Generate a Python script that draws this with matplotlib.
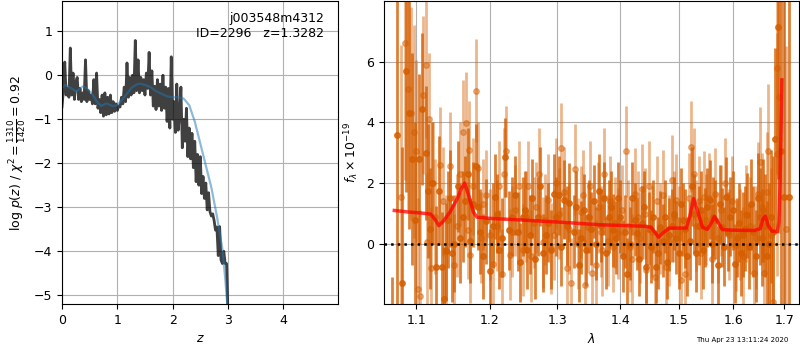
import matplotlib
matplotlib.use('Agg')
import matplotlib.pyplot as plt
from matplotlib.ticker import NullLocator, FixedLocator, FixedFormatter

plt.rcParams['font.size'] = 9

# log p(z) curve (dark) and smoothed prior curve (blue)
z_pz = [0.000, 0.025, 0.050, 0.075, 0.100, 0.125, 0.150, 0.175, 0.200, 0.225,
        0.250, 0.275, 0.300, 0.325, 0.350, 0.375, 0.400, 0.425, 0.450, 0.475,
        0.500, 0.525, 0.550, 0.575, 0.600, 0.625, 0.650, 0.675, 0.700, 0.725,
        0.750, 0.775, 0.800, 0.825, 0.850, 0.875, 0.900, 0.925, 0.950, 0.975,
        1.000, 1.025, 1.050, 1.075, 1.100, 1.125, 1.150, 1.175, 1.200, 1.225,
        1.250, 1.275, 1.300, 1.325, 1.350, 1.375, 1.400, 1.425, 1.450, 1.475,
        1.500, 1.525, 1.550, 1.575, 1.600, 1.625, 1.650, 1.675, 1.700, 1.725,
        1.750, 1.775, 1.800, 1.825, 1.850, 1.875, 1.900, 1.925, 1.950, 1.975,
        2.000, 2.025, 2.050, 2.075, 2.100, 2.125, 2.150, 2.175, 2.200, 2.225,
        2.250, 2.275, 2.300, 2.325, 2.350, 2.375, 2.400, 2.425, 2.450, 2.475,
        2.500, 2.525, 2.550, 2.575, 2.600, 2.625, 2.650, 2.675, 2.700, 2.725,
        2.750, 2.775, 2.800, 2.825, 2.850, 2.875, 2.900, 2.925, 2.950, 2.975,
        3.000]
logpz = [-0.72, -0.35, 0.30, -0.45, -0.30, -0.50, 0.62, -0.45, 0.05, -0.55,
         -0.15, -0.05, -0.55, -0.30, -0.60, -0.40, -0.55, 0.35, -0.60, -0.35,
         -0.55, -0.45, -0.65, -0.10, -0.65, 0.05, -0.75, -0.55, -0.85, -0.45,
         -0.93, -0.40, -0.90, -0.50, -0.88, -0.45, -0.85, -0.60, -0.82, -0.65,
         -0.80, -0.70, -0.72, -0.50, -0.65, -0.27, -0.60, 0.28, -0.50, -0.05,
         -0.45, 0.00, -0.40, 0.79, -0.35, 0.35, -0.40, -0.05, -0.35, -0.10,
         -0.45, 0.05, -0.30, 0.52, -0.45, 0.10, -0.70, -0.25, -0.78, -0.10,
         -0.70, -0.20, -0.80, 0.00, -0.75, -0.27, -1.05, -0.30, -1.20, 0.42,
         -1.00, -0.60, -1.30, -0.20, -1.25, -0.90, -0.27, -1.65, -1.00, -1.50,
         -0.75, -1.85, -1.20, -1.90, -1.32, -2.10, -1.50, -2.42, -1.80, -2.50,
         -1.85, -2.69, -2.30, -2.80, -2.45, -3.06, -2.67, -3.10, -3.20, -3.15,
         -3.30, -3.52, -3.45, -4.10, -3.44, -4.20, -4.28, -4.00, -4.28, -4.28,
         -5.40]

z_prior = [0.0, 0.05, 0.1, 0.2, 0.26, 0.3, 0.38, 0.45, 0.56, 0.63, 0.71, 0.8,
           0.92, 1.0, 1.13, 1.26, 1.35, 1.41, 1.5, 1.6, 1.7, 1.8, 1.9, 2.0,
           2.1, 2.2, 2.3, 2.4, 2.5, 2.6, 2.7, 2.8, 2.9, 2.95, 3.0]
log_prior = [-0.30, -0.22, -0.25, -0.32, -0.37, -0.33, -0.25, -0.30, -0.45,
             -0.60, -0.70, -0.64, -0.70, -0.68, -0.49, -0.28, -0.21, -0.19,
             -0.22, -0.27, -0.36, -0.42, -0.48, -0.50, -0.50, -0.53, -0.68,
             -1.05, -1.55, -2.05, -2.55, -3.20, -3.95, -4.60, -5.40]

# 1D spectrum, two sets of points (dark / light) with errors
wave_a = [1.069, 1.076, 1.082, 1.087, 1.091, 1.095, 1.099, 1.104, 1.108, 1.113,
          1.116, 1.121, 1.126, 1.130, 1.134, 1.137, 1.140, 1.145, 1.151, 1.156,
          1.162, 1.170, 1.176, 1.180, 1.186, 1.195, 1.200, 1.207, 1.213, 1.222,
          1.227, 1.232, 1.241, 1.248, 1.254, 1.262, 1.270, 1.278, 1.286, 1.294,
          1.302, 1.310, 1.318, 1.325, 1.333, 1.341, 1.349, 1.357, 1.365, 1.373,
          1.381, 1.389, 1.397, 1.404, 1.412, 1.420, 1.428, 1.436, 1.444, 1.452,
          1.460, 1.468, 1.476, 1.484, 1.492, 1.500, 1.508, 1.516, 1.524, 1.532,
          1.540, 1.548, 1.556, 1.563, 1.571, 1.579, 1.587, 1.595, 1.603, 1.611,
          1.619, 1.627, 1.635, 1.643, 1.651, 1.658, 1.666, 1.674, 1.681, 1.687,
          1.693, 1.700, 1.710,
          1.118, 1.142, 1.148, 1.159, 1.166, 1.173, 1.183, 1.190, 1.204, 1.210,
          1.217, 1.236, 1.244, 1.251, 1.258, 1.266, 1.274, 1.282, 1.290, 1.298,
          1.306, 1.314, 1.329, 1.337, 1.345, 1.353, 1.361, 1.369, 1.377, 1.385,
          1.393, 1.400, 1.408, 1.416, 1.424, 1.432, 1.440, 1.448, 1.456, 1.464,
          1.472, 1.480, 1.488, 1.496, 1.504, 1.512, 1.520, 1.528, 1.536, 1.544,
          1.552, 1.560, 1.567, 1.575, 1.583, 1.591, 1.599, 1.607, 1.615, 1.623,
          1.631, 1.639, 1.647, 1.655, 1.662, 1.670, 1.677]
flux_a = [-3.0, 3.6, -1.3, 5.7, 4.3, 2.8, 0.8, 2.8, 4.45, 3.0,
          1.75, 2.0, -0.75, 1.75, -0.75, -1.8, -0.25, 1.5, 0.0, 1.9,
          0.9, 2.3, 1.3, 2.55, 0.4, 0.75, -0.9, 1.55, -0.2, 2.85,
          0.45, 0.9, 0.4, 0.9, -0.2, 1.5, 0.9, -0.3, 0.7, 1.65,
          1.6, 1.45, 1.35, 0.4, -0.7, 1.1, 0.9, 1.4, 1.75, 1.5,
          0.9, 0.45, 1.5, -0.4, -1.0, 1.5, 0.35, 0.7, -0.75, -0.1,
          -0.75, 0.55, 0.9, 0.3, 1.0, -0.3, 0.8, -0.4, 1.9, -0.3,
          1.1, 0.55, 1.45, 0.9, -0.7, 0.55, 1.55, 0.9, -0.65, 0.7,
          0.3, 0.95, 1.3, -0.4, 0.9, 1.1, -0.4, 0.9, 3.45, 7.15,
          3.05, 1.55, 1.55,
          0.5, 0.8, -0.3, 0.2, 1.4, 0.1, 1.2, -0.4, 0.6, 1.0,
          0.2, 1.6, -0.6, 1.1, 0.3, -0.5, 1.9, 0.3, -0.2, 0.9,
          -0.1, 0.6, 1.2, 0.2, -0.2, 0.5, 0.0, 0.6, -0.3, 1.2,
          0.2, 0.9, 0.4, 0.0, 0.8, -0.5, 1.2, 0.5, 0.9, -0.3,
          0.1, -0.6, 0.6, 0.2, 1.3, 0.5, 0.1, 1.0, 0.6, -0.2,
          1.2, 0.0, 0.8, 1.3, -0.1, 0.4, 1.1, 0.2, -0.3, 0.5,
          -0.1, 0.4, 1.5, 0.2, 0.6, 0.0, 0.4]
err_a = [1.9, 6.0, 4.5, 4.0, 3.8, 3.5, 3.2, 2.8, 2.5, 2.2,
         2.2, 2.0, 2.0, 1.8, 1.8, 1.7, 1.6, 1.6, 1.6, 1.5,
         1.5, 1.5, 1.4, 1.4, 1.4, 1.4, 1.4, 1.4, 1.3, 1.3,
         1.3, 1.3, 1.3, 1.3, 1.3, 1.3, 1.3, 1.3, 1.3, 1.3,
         1.3, 1.3, 1.3, 1.2, 1.2, 1.2, 1.2, 1.2, 1.2, 1.2,
         1.2, 1.2, 1.2, 1.2, 1.2, 1.2, 1.2, 1.2, 1.2, 1.2,
         1.2, 1.2, 1.2, 1.2, 1.2, 1.2, 1.2, 1.3, 1.3, 1.3,
         1.3, 1.3, 1.3, 1.3, 1.3, 1.3, 1.3, 1.3, 1.3, 1.3,
         1.4, 1.4, 1.5, 1.5, 1.6, 1.7, 1.8, 2.2, 3.0, 5.0,
         6.0, 6.5, 7.0,
         2.0, 1.6, 1.6, 1.5, 1.5, 1.4, 1.4, 1.4, 1.4, 1.3,
         1.3, 1.3, 1.3, 1.3, 1.3, 1.3, 1.3, 1.3, 1.3, 1.3,
         1.3, 1.3, 1.2, 1.2, 1.2, 1.2, 1.2, 1.2, 1.2, 1.2,
         1.2, 1.2, 1.2, 1.2, 1.2, 1.2, 1.2, 1.2, 1.2, 1.2,
         1.2, 1.2, 1.2, 1.2, 1.2, 1.3, 1.3, 1.3, 1.3, 1.3,
         1.3, 1.3, 1.3, 1.3, 1.3, 1.3, 1.3, 1.3, 1.4, 1.4,
         1.4, 1.5, 1.5, 1.6, 1.7, 2.0, 2.5]

wave_b = [1.080, 1.086, 1.089, 1.093, 1.097, 1.100, 1.102, 1.105, 1.109, 1.113,
          1.114, 1.117, 1.119, 1.122, 1.131, 1.145, 1.150, 1.158, 1.163, 1.167,
          1.169, 1.171, 1.173, 1.180, 1.184, 1.190, 1.200, 1.204, 1.210, 1.213,
          1.218, 1.220, 1.224, 1.229, 1.236, 1.242, 1.248, 1.256, 1.264, 1.272,
          1.278, 1.285, 1.290, 1.298, 1.306, 1.314, 1.321, 1.328, 1.336, 1.343,
          1.348, 1.354, 1.360, 1.368, 1.374, 1.380, 1.388, 1.396, 1.410, 1.417,
          1.424, 1.430, 1.437, 1.444, 1.454, 1.459, 1.463, 1.472, 1.478, 1.488,
          1.496, 1.505, 1.512, 1.519, 1.522, 1.527, 1.536, 1.545, 1.555, 1.566,
          1.572, 1.585, 1.592, 1.605, 1.613, 1.625, 1.640, 1.648, 1.652, 1.660,
          1.665, 1.668, 1.678, 1.685, 1.686, 1.690, 1.703,
          1.125, 1.136, 1.140, 1.154, 1.176, 1.187, 1.195, 1.232, 1.252, 1.260,
          1.268, 1.281, 1.294, 1.302, 1.310, 1.318, 1.332, 1.340, 1.351, 1.364,
          1.371, 1.384, 1.392, 1.403, 1.413, 1.420, 1.434, 1.441, 1.449, 1.467,
          1.483, 1.492, 1.500, 1.531, 1.540, 1.550, 1.560, 1.578, 1.598, 1.619,
          1.632, 1.644, 1.656, 1.673]
flux_b = [1.55, 6.6, 5.1, 4.3, 3.7, 3.05, -1.5, -1.7, 4.9, 5.9,
          0.05, 4.1, -0.8, 2.0, 2.6, 2.55, -0.7, 2.3, 3.7, 3.97,
          0.45, 3.1, -0.35, 5.05, 2.5, 1.3, 0.3, -0.65, 0.6, 1.9,
          -1.0, 2.3, 3.05, -0.35, 1.1, 1.9, -0.2, 1.9, 0.7, 2.3,
          0.05, 1.45, -0.15, 2.0, 3.15, -0.8, -1.3, 2.45, 1.05, -1.35,
          0.55, -0.95, -0.7, 0.4, 2.3, 0.1, -0.1, 0.35, 3.05, -0.1,
          1.65, 0.9, 1.8, -0.85, 0.4, -1.1, 1.4, 1.6, -0.75, 2.1,
          1.45, -1.2, -1.0, 1.5, 3.2, 2.3, 1.4, 1.55, 1.5, 1.65,
          0.2, 2.0, 0.3, -0.05, 0.3, 1.0, -0.95, 1.65, 2.7, -0.95,
          1.7, 3.05, -1.9, 5.8, 2.95, 4.85, 0.5,
          0.9, 1.4, -0.2, 0.6, 1.9, 0.2, 1.6, 0.4, 0.9, -0.4,
          1.2, 0.8, 0.3, 1.0, 1.7, 0.5, 0.0, 1.6, 1.9, 1.2,
          -0.2, 1.4, 0.7, 1.1, 0.6, -0.5, 0.2, 1.0, 1.9, 0.5,
          0.1, 0.9, 0.4, 0.6, -0.3, 0.8, -0.5, 1.1, 1.4, -0.4,
          0.6, 0.2, 1.2, 0.3]
err_b = [5.0, 4.5, 4.0, 3.5, 3.5, 3.0, 3.0, 2.8, 2.6, 2.4,
         2.3, 2.2, 2.0, 2.0, 1.9, 1.8, 1.7, 1.7, 1.7, 1.7,
         1.6, 1.6, 1.6, 1.7, 1.5, 1.5, 1.5, 1.5, 1.5, 1.5,
         1.5, 1.5, 1.5, 1.5, 1.5, 1.5, 1.5, 1.5, 1.5, 1.5,
         1.5, 1.5, 1.5, 1.5, 1.5, 1.5, 1.5, 1.5, 1.5, 1.5,
         1.5, 1.5, 1.5, 1.5, 1.5, 1.5, 1.5, 1.5, 1.5, 1.5,
         1.5, 1.5, 1.5, 1.5, 1.5, 1.5, 1.5, 1.5, 1.5, 1.5,
         1.5, 1.5, 1.5, 1.5, 1.5, 1.5, 1.5, 1.5, 1.5, 1.5,
         1.5, 1.5, 1.5, 1.5, 1.5, 1.6, 1.6, 1.7, 1.8, 1.9,
         2.0, 2.2, 2.6, 3.5, 4.0, 4.5, 6.0,
         1.9, 1.8, 1.8, 1.7, 1.6, 1.5, 1.5, 1.5, 1.5, 1.5,
         1.5, 1.5, 1.5, 1.5, 1.5, 1.5, 1.5, 1.5, 1.5, 1.5,
         1.5, 1.5, 1.5, 1.5, 1.5, 1.5, 1.5, 1.5, 1.5, 1.5,
         1.5, 1.5, 1.5, 1.5, 1.5, 1.5, 1.5, 1.5, 1.5, 1.6,
         1.6, 1.7, 1.8, 2.2]

# best-fit model
wave_model = [1.072, 1.090, 1.105, 1.119, 1.125, 1.130, 1.136, 1.145, 1.155,
              1.160, 1.165, 1.171, 1.177, 1.182, 1.200, 1.250, 1.300, 1.367,
              1.440, 1.452, 1.458, 1.465, 1.472, 1.484, 1.514, 1.520, 1.527,
              1.534, 1.543, 1.552, 1.558, 1.565, 1.572, 1.580, 1.600, 1.640,
              1.652, 1.657, 1.662, 1.668, 1.675, 1.686, 1.689, 1.691, 1.693,
              1.695]
flux_model = [1.10, 1.05, 1.02, 0.98, 0.80, 0.60, 0.75, 1.05, 1.50,
              1.80, 2.00, 1.55, 1.05, 0.88, 0.84, 0.78, 0.72, 0.63,
              0.58, 0.55, 0.40, 0.22, 0.35, 0.52, 0.52, 0.90, 1.49,
              1.10, 0.55, 0.48, 0.65, 0.90, 0.70, 0.47, 0.45, 0.44,
              0.50, 0.80, 0.92, 0.60, 0.42, 0.40, 0.70, 1.80, 3.60,
              5.40]

zticks = [0, 1, 2, 3, 4]
lam_ticks = [1.1, 1.2, 1.3, 1.4, 1.5, 1.6, 1.7]
lam_labels = ['1.1', '1.2', '1.3', '1.4', '1.5', '1.6', '1.7']
orange = '#d55e00'

fig = plt.figure(figsize=(8, 3.5), dpi=100)
ax1 = fig.add_axes([0.0775, 0.1314, 0.345, 0.866])
ax2 = fig.add_axes([0.48, 0.1314, 0.519, 0.866])

# left panel: p(z)
ax1.plot(z_pz, logpz, color='k', alpha=0.75, lw=2)
ax1.plot(z_prior, log_prior, color='tab:blue', alpha=0.5, lw=1.6)
ax1.set_xlim(0, 4.99)
ax1.set_ylim(-5.2, 1.69)
ax1.set_xticks(zticks)
ax1.set_yticks([-5, -4, -3, -2, -1, 0, 1])
ax1.grid()
ax1.set_xlabel('$z$')
ax1.set_ylabel(r'log $p(z)$ / $\chi^2=\frac{1310}{1420}=0.92$')
ax1.text(0.95, 0.965, 'j003548m4312\nID=2296   z=1.3282', ha='right', va='top',
         transform=ax1.transAxes)

# right panel: spectrum
ax2.errorbar(wave_b, flux_b, yerr=err_b, fmt='o', ms=4, color=orange,
             alpha=0.45, elinewidth=2, capsize=0)
ax2.errorbar(wave_a, flux_a, yerr=err_a, fmt='o', ms=4, color=orange,
             alpha=0.78, elinewidth=2, capsize=0)
ax2.plot(wave_model, flux_model, color='r', alpha=0.75, lw=2.5, zorder=5)
ax2.axhline(0, color='k', linestyle=':', lw=1.8, zorder=6)
ax2.set_xscale('log')
ax2.set_xlim(1.059, 1.730)
ax2.set_ylim(-1.98, 8.0)
ax2.xaxis.set_major_locator(FixedLocator(lam_ticks))
ax2.xaxis.set_major_formatter(FixedFormatter(lam_labels))
ax2.xaxis.set_minor_locator(NullLocator())
ax2.set_yticks([0, 2, 4, 6])
ax2.grid()
ax2.set_xlabel(r'$\lambda$')
ax2.set_ylabel(r'$f_\lambda\times10^{-19}$')

fig.text(0.985, 0.029, 'Thu Apr 23 13:11:24 2020', ha='right', va='center',
         fontsize=5)

fig.savefig('out.png', dpi=100)
